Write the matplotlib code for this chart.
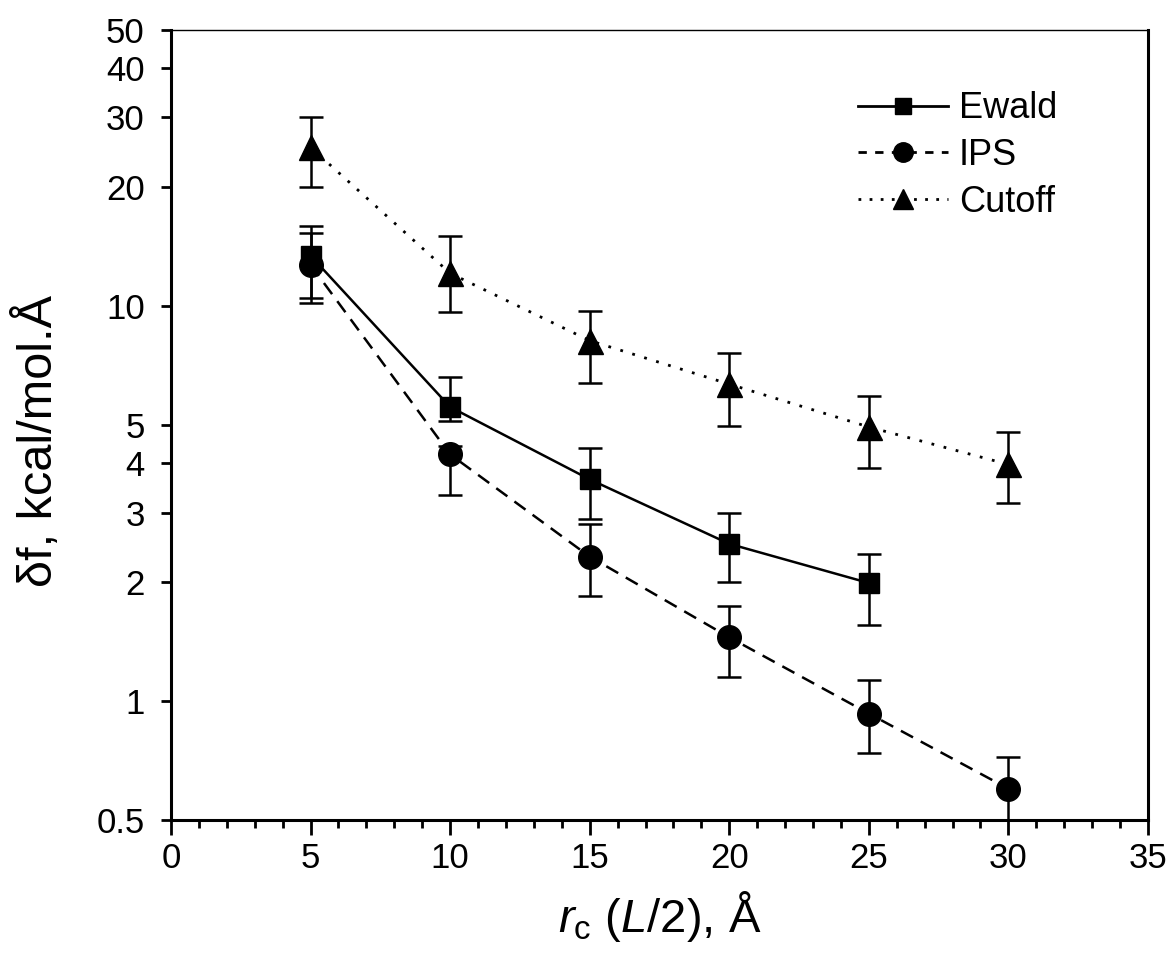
import numpy as np
import matplotlib
matplotlib.use("Agg")
import matplotlib.pyplot as plt
from matplotlib.lines import Line2D
from matplotlib.ticker import FixedLocator, NullFormatter, MultipleLocator

plt.rcParams['font.family'] = ['Liberation Sans', 'DejaVu Sans']
plt.rcParams['mathtext.fontset'] = 'custom'
plt.rcParams['mathtext.it'] = 'Liberation Sans:italic'
plt.rcParams['mathtext.rm'] = 'Liberation Sans'

# ==========================
# Dados
# ==========================
rc_ewald = [5, 10, 15, 20, 25]
ewald = [13.4, 5.55, 3.64, 2.5, 1.99]
ewald_hi = [15.9, 6.6, 4.37, 3.0, 2.36]
ewald_lo = [10.5, 5.12, 2.89, 2.0, 1.56]

rc_ips = [5, 10, 15, 20, 25, 30]
ips = [12.7, 4.21, 2.32, 1.45, 0.93, 0.60]
ips_hi = [15.3, 4.43, 2.81, 1.74, 1.13, 0.72]
ips_lo = [10.15, 3.32, 1.84, 1.15, 0.74, 0.46]

rc_cut = [5, 10, 15, 20, 25, 30]
cutoff = [25.2, 12.1, 8.17, 6.34, 4.94, 3.97]
cut_hi = [30.0, 15.0, 9.7, 7.6, 5.9, 4.8]
cut_lo = [20.0, 9.67, 6.4, 4.97, 3.9, 3.17]

ytick_vals = [0.5, 1, 2, 3, 4, 5, 10, 20, 30, 40, 50]
ytick_labels = ["0.5", "1", "2", "3", "4", "5", "10", "20", "30", "40", "50"]


def err(v, hi, lo):
    v = np.array(v)
    return [v - np.array(lo), np.array(hi) - v]


fig = plt.figure(figsize=(11.69, 9.6), dpi=100)
ax = fig.add_axes([0.1463, 0.1458, 0.8357, 0.8232])

kw = dict(color='black', ecolor='black', elinewidth=1.8, capsize=8.5, capthick=1.8)

ax.errorbar(rc_ewald, ewald, yerr=err(ewald, ewald_hi, ewald_lo),
            fmt='-s', lw=1.8, ms=15, **kw)
ax.errorbar(rc_ips, ips, yerr=err(ips, ips_hi, ips_lo),
            fmt='--o', lw=1.8, ms=17, dashes=(5.5, 3.5), **kw)
ax.errorbar(rc_cut, cutoff, yerr=err(cutoff, cut_hi, cut_lo),
            fmt='^', ls=(0, (1, 3.5)), lw=2, ms=18, **kw)

ax.set_yscale('log')
ax.set_xlim(0, 35)
ax.set_ylim(0.5, 50)

ax.yaxis.set_major_locator(FixedLocator(ytick_vals))
ax.set_yticklabels(ytick_labels)
ax.yaxis.set_minor_locator(FixedLocator([]))
ax.yaxis.set_minor_formatter(NullFormatter())
ax.xaxis.set_major_locator(MultipleLocator(5))
ax.xaxis.set_minor_locator(MultipleLocator(1))

ax.tick_params(axis='both', which='major', direction='out', width=2, labelsize=25)
ax.tick_params(axis='y', which='major', length=7, pad=12)
ax.tick_params(axis='x', which='major', length=11, pad=5)
ax.tick_params(axis='x', which='minor', direction='out', length=6, width=2)

for s in ax.spines.values():
    s.set_linewidth(2.2)
ax.spines['top'].set_linewidth(1)

ax.set_xlabel(r"$r_\mathrm{c}\ (L/2)$, Å", fontsize=34, labelpad=10)
ax.set_ylabel("δf, kcal/mol.Å", fontsize=35)
ax.yaxis.set_label_coords(-0.112, 0.48)

# legenda sem barras de erro
h1 = Line2D([], [], color='black', ls='-', lw=2, marker='s', ms=12)
h2 = Line2D([], [], color='black', ls='--', lw=2, marker='o', ms=14, dashes=(3, 3))
h3 = Line2D([], [], color='black', ls=(0, (1, 3)), lw=2, marker='^', ms=15)
ax.legend([h1, h2, h3], ['Ewald', 'IPS', 'Cutoff'], loc='upper left',
          frameon=False, fontsize=26, bbox_to_anchor=(0.703, 0.922),
          borderaxespad=0, borderpad=0,
          handlelength=2.5, handletextpad=0.3, labelspacing=0.32, numpoints=1)

plt.savefig("out.png", dpi=100)
plt.close()
